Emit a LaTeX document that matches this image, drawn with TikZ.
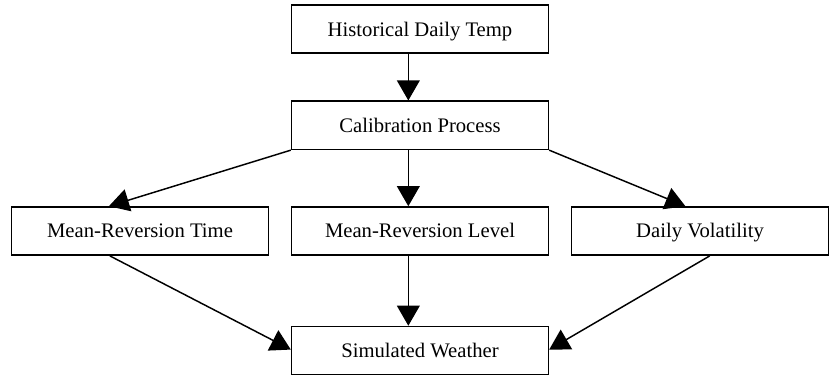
\documentclass[tikz,border=0pt]{standalone}
\usepackage{fontspec}
\setmainfont{Liberation Serif}
\usetikzlibrary{arrows.meta,calc}
\begin{document}
\begin{tikzpicture}[x=0.729pt,y=-0.75pt,
  box/.style={draw,line width=1.25pt,minimum width=192.5pt,minimum height=36pt,inner sep=0pt,
    text height=10.3pt,text depth=0pt,font=\fontsize{15.5}{18}\selectfont},
  conn/.style={line width=1.1pt,-{Triangle[length=15pt,width=17pt]}}]
\useasboundingbox (0,0) rectangle (864,375);
\node[box] (top) at (432,29.3) {Historical Daily Temp};
\node[box] (cal) at (432,125.3) {Calibration Process};
\node[box] (mrt) at (144,231) {Mean-Reversion Time};
\node[box] (mrl) at (432,231) {Mean-Reversion Level};
\node[box] (dv)  at (720,231) {Daily Volatility};
\node[box] (sw)  at (432,350.5) {Simulated Weather};
\draw[conn] ($(top.south)+(-12,0)$) -- ($(cal.north)+(-12,0)$);
\draw[conn] ($(cal.south)+(-12,0)$) -- ($(mrl.north)+(-12,0)$);
\draw[conn] (cal.south west) -- ($(mrt.north)+(-32,0)$);
\draw[conn] (cal.south east) -- ($(dv.north)+(-15,0)$);
\draw[conn] ($(mrt.south)+(-31,0)$) -- ($(sw.west)+(0,-1)$);
\draw[conn] ($(mrl.south)+(-12,0)$) -- ($(sw.north)+(-12,0)$);
\draw[conn] ($(dv.south)+(10,0)$) -- ($(sw.east)+(0,-1)$);
\end{tikzpicture}
\end{document}
